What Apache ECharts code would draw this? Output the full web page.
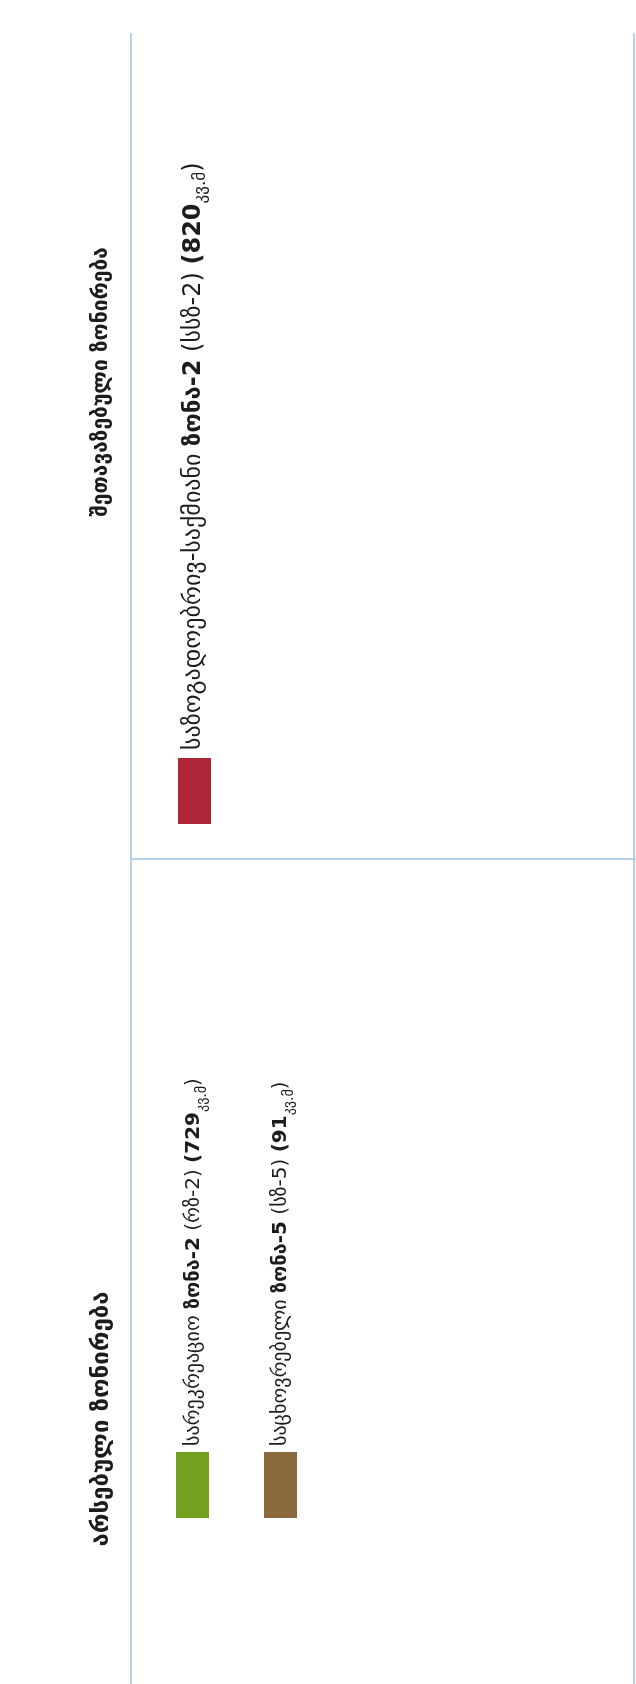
<!DOCTYPE html>
<html>
<head>
<meta charset="utf-8">
<script src="https://cdn.jsdelivr.net/npm/echarts@6/dist/echarts.min.js"></script>
<style>
  html, body { margin: 0; padding: 0; background: #ffffff; }
  #chart { width: 636px; height: 1684px; }
</style>
</head>
<body>
<div id="chart"></div>
<script>
// ---- data ----
const sectionTitles = ['არსებული ზონირება', 'შეთავაზებული ზონირება'];
const zoneNames = ['სარეკრეაციო', 'საცხოვრებელი', 'საზოგადოებრივ-საქმიანი'];
const zoneLabels = ['ზონა-2', 'ზონა-5', 'ზონა-2'];
const zoneCodes = ['რზ-2', 'სზ-5', 'სსზ-2'];
const zoneAreas = [729, 91, 820];
const areaUnit = 'კვ.მ';
const zoneColors = ['#73a01e', '#8a6a3c', '#ad2636'];

// ---- layout ----
const FONT = '"DejaVu Sans", sans-serif';
const lineColor = '#b9d0ea';
const textColor = '#1c1c1c';

const titleLayout = [{x: 102, y: 1419, fs: 24}, {x: 102, y: 382, fs: 21}];
const itemPos = [
  {tx: 194, ty: 1446, sx: 176, sy: 1452, fs: 20},
  {tx: 281, ty: 1446, sx: 264, sy: 1452, fs: 20},
  {tx: 194, ty: 750,  sx: 178, sy: 758, fs: 24}
];

const chart = echarts.init(document.getElementById('chart'), null, {renderer: 'canvas'});
const g = [];

// table lines
g.push({type: 'line', shape: {x1: 131, y1: 33, x2: 131, y2: 1684}, style: {stroke: lineColor, lineWidth: 2}});
g.push({type: 'line', shape: {x1: 634, y1: 33, x2: 634, y2: 1684}, style: {stroke: lineColor, lineWidth: 2}});
g.push({type: 'line', shape: {x1: 131, y1: 859, x2: 636, y2: 859}, style: {stroke: lineColor, lineWidth: 2}});

// section titles
sectionTitles.forEach((t, i) => {
  const L = titleLayout[i];
  g.push({
    type: 'text', x: L.x, y: L.y, rotation: Math.PI / 2,
    style: {text: t, fill: textColor, font: 'bold ' + L.fs + 'px ' + FONT, textAlign: 'center', textVerticalAlign: 'middle'}
  });
});

// items
zoneNames.forEach((n, i) => {
  const p = itemPos[i];
  g.push({
    type: 'rect', shape: {x: p.sx, y: p.sy, width: 33, height: 66},
    style: {fill: zoneColors[i]}
  });
  const rich = '{n|' + n + ' }{b|' + zoneLabels[i] + '}{n| (' + zoneCodes[i] + ') }{b|(' + zoneAreas[i] + '}{s|' + areaUnit + '}{n|)}';
  g.push({
    type: 'text', x: p.tx, y: p.ty, rotation: Math.PI / 2,
    style: {
      text: rich, fill: textColor, textAlign: 'left', textVerticalAlign: 'middle',
      rich: {
        n: {fontFamily: FONT, fontSize: p.fs, fill: textColor, lineHeight: 30, verticalAlign: 'middle'},
        b: {fontFamily: FONT, fontSize: p.fs, fontWeight: 'bold', fill: textColor, lineHeight: 30, verticalAlign: 'middle'},
        s: {fontFamily: FONT, fontSize: Math.round(p.fs * 0.7), fill: textColor, lineHeight: 30, verticalAlign: 'bottom', padding: [8, 0, 0, 0]}
      }
    }
  });
});

chart.setOption({
  backgroundColor: '#ffffff',
  animation: false,
  graphic: {elements: g}
});
</script>
</body>
</html>
